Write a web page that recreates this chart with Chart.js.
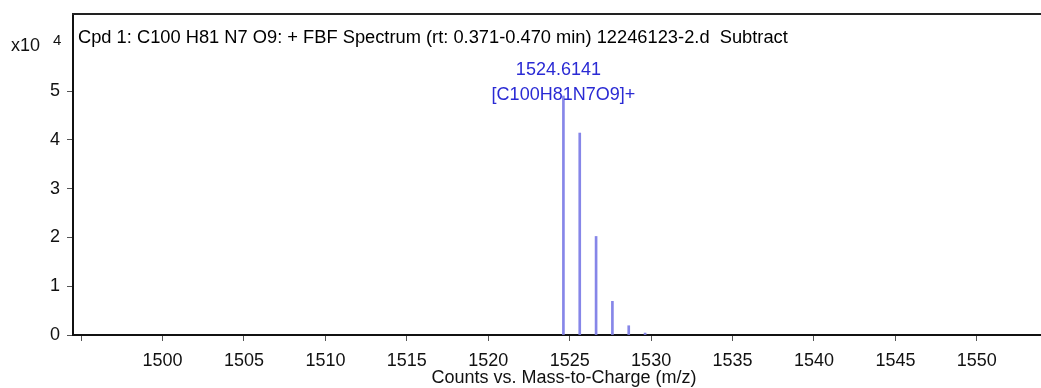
<!DOCTYPE html>
<html>
<head>
<meta charset="utf-8">
<script src="https://cdn.jsdelivr.net/npm/chart.js@4.4.1/dist/chart.umd.min.js"></script>
<style>
  html, body { margin: 0; padding: 0; background: #fff; overflow: hidden; }
  #wrap { width: 1060px; height: 388px; }
</style>
</head>
<body>
<div id="wrap"><canvas id="chart-espectro"></canvas></div>
<script>
// Dados do espectro (contagens em x10^4)
const mzValues = [1524.6141, 1525.617, 1526.62, 1527.622, 1528.625, 1529.63];
const counts = [4.9, 4.14, 2.02, 0.69, 0.19, 0.04];
const xTicks = [1495, 1500, 1505, 1510, 1515, 1520, 1525, 1530, 1535, 1540, 1545, 1550];
const yTicks = [0, 1, 2, 3, 4, 5];

const titulo = "Cpd 1: C100 H81 N7 O9: + FBF Spectrum (rt: 0.371-0.470 min) 12246123-2.d  Subtract";
const rotuloPico = ["1524.6141", "[C100H81N7O9]+"];
const FONTE = '"Liberation Sans", Arial, sans-serif';

const EspectroController = {
  chart: null,

  init() {
    const ctx = document.querySelector("#chart-espectro");

    // Plugin para moldura, título, multiplicador e rótulo do pico
    const extras = {
      id: "extras",
      afterDraw(chart) {
        const c = chart.ctx;
        const area = chart.chartArea;
        const xs = chart.scales.x;
        const ys = chart.scales.y;
        c.save();

        // linha superior da moldura
        c.strokeStyle = "#222";
        c.lineWidth = 2;
        c.beginPath();
        c.moveTo(area.left - 1, area.top);
        c.lineTo(area.right, area.top);
        c.stroke();

        // título
        c.fillStyle = "#000";
        c.font = "18.3px " + FONTE;
        c.textBaseline = "middle";
        c.textAlign = "left";
        c.fillText(titulo, area.left + 5, 38);

        // multiplicador x10^4
        c.fillStyle = "#111";
        c.font = "18px " + FONTE;
        c.fillText("x10", 11, 46);
        c.font = "15px " + FONTE;
        c.fillText("4", 53, 41);

        // rótulo do pico principal
        const px = xs.getPixelForValue(mzValues[0]);
        const py = ys.getPixelForValue(counts[0]);
        c.fillStyle = "#2a2ad4";
        c.font = "18px " + FONTE;
        c.textAlign = "center";
        c.fillText(rotuloPico[0], px - 5, py - 26);
        c.fillText(rotuloPico[1], px, py - 1);

        c.restore();
      },
    };

    this.chart = new Chart(ctx, {
      type: "bar",
      data: {
        datasets: [
          {
            data: mzValues.map((mz, i) => ({ x: mz, y: counts[i] })),
            backgroundColor: "#8686e8",
            barThickness: 2,
          },
        ],
      },
      options: {
        responsive: true,
        maintainAspectRatio: false,
        animation: false,
        layout: { padding: { top: 14, right: 5, left: 0, bottom: 0 } },
        plugins: {
          legend: { display: false },
          tooltip: { enabled: false },
        },
        scales: {
          x: {
            type: "linear",
            min: 1494.5,
            max: 1554.8,
            offset: false,
            afterBuildTicks: (s) => {
              s.ticks = xTicks.map((v) => ({ value: v }));
            },
            afterFit: (s) => {
              s.height = 53;
              s.paddingLeft = 0;
              s.paddingRight = 0;
            },
            ticks: {
              color: "#111",
              font: { family: FONTE, size: 18 },
              padding: 9,
              maxRotation: 0,
              autoSkip: false,
              callback: (v) => (v === 1495 ? "" : String(v)),
            },
            grid: {
              offset: false,
              drawOnChartArea: false,
              drawTicks: true,
              tickLength: 6,
              color: "#555",
            },
            border: { display: true, color: "#111", width: 2 },
            title: {
              display: true,
              text: "Counts vs. Mass-to-Charge (m/z)",
              color: "#111",
              font: { family: FONTE, size: 18 },
              padding: { top: 0, bottom: -1 },
            },
          },
          y: {
            type: "linear",
            min: 0,
            max: 6.58,
            afterBuildTicks: (s) => {
              s.ticks = yTicks.map((v) => ({ value: v }));
            },
            afterFit: (s) => {
              s.width = 73;
              s.paddingTop = 0;
              s.paddingBottom = 0;
            },
            ticks: {
              color: "#111",
              font: { family: FONTE, size: 18 },
              padding: 7,
            },
            grid: {
              drawOnChartArea: false,
              drawTicks: true,
              tickLength: 6,
              color: "#555",
            },
            border: { display: true, color: "#111", width: 2 },
          },
        },
      },
      plugins: [extras],
    });
  },
};

EspectroController.init();
</script>
</body>
</html>
